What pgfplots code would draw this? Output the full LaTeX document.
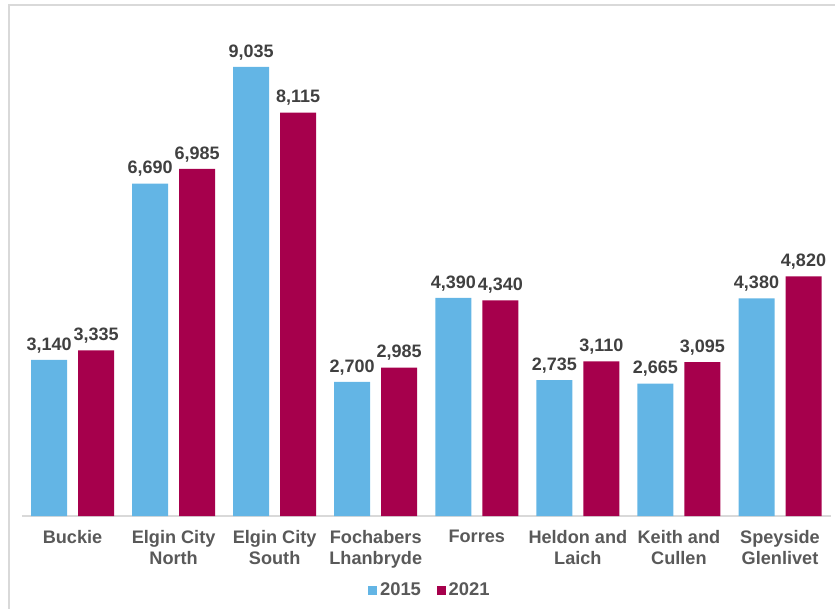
\documentclass[border=0pt]{standalone}
\usepackage{fontspec}
\setmainfont{Liberation Sans}
\usepackage{pgfplots}
\pgfplotsset{compat=1.18}

\definecolor{bar15}{HTML}{63B5E5}
\definecolor{bar21}{HTML}{A6004C}
\definecolor{lbl}{HTML}{595959}
\definecolor{val}{HTML}{404040}
\definecolor{rule}{HTML}{D9D9D9}

\begin{document}
\begin{tikzpicture}[x=1pt,y=1pt]
\useasboundingbox (0,0) rectangle (626.25,456);
\draw[rule, line width=0.9pt] (6.75,-20) -- (6.75,452.25) -- (650,452.25);
\begin{axis}[
    at={(16.5pt,69pt)}, anchor=south west,
    scale only axis,
    width=606.4pt, height=372.75pt,
    ybar=8.25pt,
    bar width=27pt,
    xmin=-0.5, xmax=7.5,
    ymin=0, ymax=10000,
    axis y line=none,
    axis x line*=bottom,
    x axis line style={rule, line width=0.9pt, -},
    xtick=data,
    xtick style={draw=none},
    xticklabels={Buckie, {Elgin City\\North}, {Elgin City\\South}, {Fochabers\\Lhanbryde}, Forres, {Heldon and\\Laich}, {Keith and\\Cullen}, {Speyside\\Glenlivet}},
    xticklabel style={align=center, text=lbl, font=\fontsize{13.6}{15.8}\selectfont\bfseries, yshift=-3pt},
    nodes near coords,
    nodes near coords style={text=val, font=\fontsize{13.5}{16}\selectfont\bfseries, inner sep=2pt, yshift=3pt},
    /pgf/number format/.cd, fixed, 1000 sep={,}, assume math mode=true,
    /pgfplots/.cd,
    legend style={at={(0.505,-0.149)}, anchor=center, draw=none, legend columns=2,
        font=\fontsize{13.8}{16}\selectfont\bfseries, text=lbl,
        /tikz/every even column/.append style={column sep=10pt}},
    legend image code/.code={\fill[#1] (0pt,-3.4pt) rectangle (6.75pt,3.4pt);},
]
\addplot[fill=bar15, draw=none] coordinates {(0,3140) (1,6690) (2,9035) (3,2700) (4,4390) (5,2735) (6,2665) (7,4380)};
\addplot[fill=bar21, draw=none] coordinates {(0,3335) (1,6985) (2,8115) (3,2985) (4,4340) (5,3110) (6,3095) (7,4820)};
\legend{2015, 2021}
\end{axis}
\end{tikzpicture}
\end{document}
